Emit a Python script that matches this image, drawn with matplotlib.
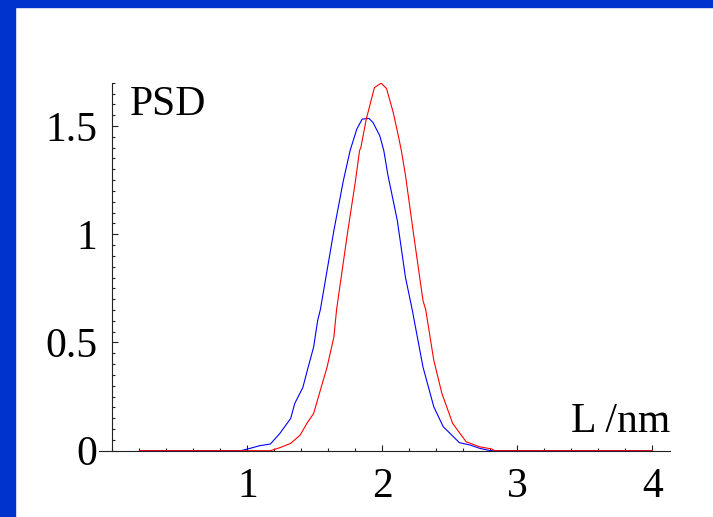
import matplotlib
matplotlib.use("Agg")
import matplotlib.pyplot as plt
from matplotlib.patches import Rectangle
from matplotlib.ticker import MultipleLocator, FixedLocator

# DATA
blue_L = [0.2, 0.95, 1.02, 1.09, 1.17, 1.24, 1.32, 1.35, 1.41, 1.45, 1.49, 1.52, 1.54,
          1.64, 1.71, 1.76, 1.81, 1.85, 1.90, 1.93, 1.98, 2.01, 2.04, 2.11, 2.17, 2.22,
          2.30, 2.38, 2.45, 2.57, 2.65, 2.72, 2.80, 4.0]
blue_psd = [0, 0, 0.011, 0.023, 0.031, 0.080, 0.149, 0.218, 0.292, 0.387, 0.479, 0.602, 0.652,
            1.017, 1.247, 1.386, 1.486, 1.532, 1.535, 1.516, 1.455, 1.386, 1.274, 1.063, 0.802, 0.652,
            0.387, 0.203, 0.111, 0.037, 0.026, 0.011, 0, 0]

red_L = [0.2, 1.17, 1.24, 1.32, 1.39, 1.44, 1.49, 1.54, 1.59, 1.64, 1.66, 1.74, 1.80,
         1.83, 1.84, 1.88, 1.94, 1.99, 2.03, 2.08, 2.12, 2.14, 2.17, 2.23, 2.30, 2.32,
         2.38, 2.44, 2.52, 2.62, 2.72, 2.81, 2.83, 4.0]
red_psd = [0, 0, 0.014, 0.034, 0.072, 0.126, 0.172, 0.280, 0.387, 0.525, 0.652, 1.002, 1.247,
           1.386, 1.401, 1.532, 1.677, 1.698, 1.673, 1.562, 1.447, 1.386, 1.274, 1.002, 0.694, 0.652,
           0.418, 0.265, 0.126, 0.041, 0.018, 0.008, 0, 0]

x_ticks = [1, 2, 3, 4]
x_ticklabels = ["1", "2", "3", "4"]
y_ticks = [0, 0.5, 1, 1.5]
y_ticklabels = ["0", "0.5", "1", "1.5"]

# STYLE
plt.rcParams['font.family'] = ['Liberation Serif', 'DejaVu Serif']
FS = 30
BORDER = '#0033cc'

fig = plt.figure(figsize=(7.13, 5.17), dpi=100)
fig.patch.set_facecolor('white')

# slide frame (top and left bands)
fig.patches.append(Rectangle((0, 1 - 7 / 517), 1, 7 / 517, transform=fig.transFigure,
                             color=BORDER, zorder=0))
fig.patches.append(Rectangle((0, 0), 15 / 713, 1, transform=fig.transFigure,
                             color=BORDER, zorder=0))

ax = fig.add_axes([99 / 713, 66.3 / 517, 571 / 713, 368 / 517])
ax.plot(blue_L, blue_psd, color='#0000ff', lw=0.8)
ax.plot(red_L, red_psd, color='#ff0000', lw=0.8)

ax.set_xlim(-0.1, 4.13)
ax.set_ylim(0, 1.70)

for s in ['top', 'right']:
    ax.spines[s].set_visible(False)
ax.spines['left'].set_position(('data', 0))
for s in ['left', 'bottom']:
    ax.spines[s].set_linewidth(0.8)
    ax.spines[s].set_color('#222222')

ax.xaxis.set_major_locator(FixedLocator(x_ticks))
ax.set_xticklabels(x_ticklabels)
ax.xaxis.set_minor_locator(MultipleLocator(0.2))
ax.yaxis.set_major_locator(FixedLocator(y_ticks))
ax.set_yticklabels(y_ticklabels)
ax.yaxis.set_minor_locator(MultipleLocator(0.05))

ax.tick_params(which='both', direction='in', color='#222222', width=0.8)
ax.tick_params(which='major', length=4.5, labelsize=FS)
ax.tick_params(which='minor', length=2.2)
ax.tick_params(axis='x', which='major', pad=12)
ax.tick_params(axis='y', which='major', pad=11)

fig.text(130 / 713, (517 - 115) / 517, "PSD", fontsize=FS, ha='left', va='baseline')
fig.text(670 / 713, (517 - 432) / 517, "L /nm", fontsize=FS, ha='right', va='baseline')

fig.savefig("out.png", dpi=100)
